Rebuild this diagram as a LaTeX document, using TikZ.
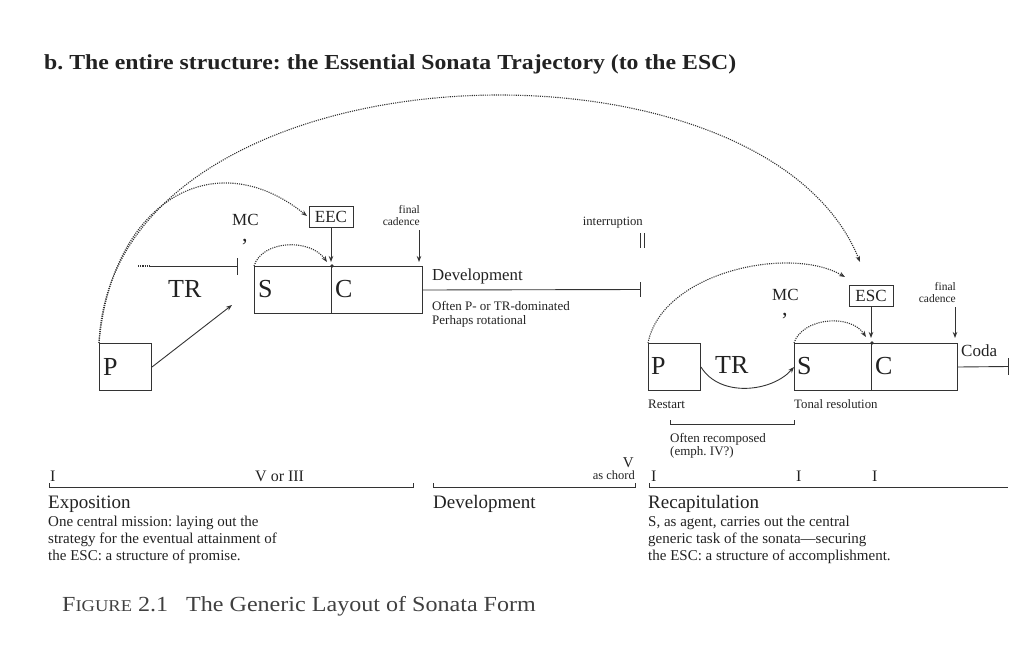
\documentclass[tikz,border=0pt]{standalone}
\usepackage{fontspec}
\setmainfont{Liberation Serif}
\newfontfamily\titlefont[FakeStretch=1.11]{Liberation Serif}
\newfontfamily\capfont[FakeStretch=1.12]{Liberation Serif}
\usetikzlibrary{arrows.meta,calc}
\definecolor{textc}{HTML}{222222}
\definecolor{linec}{HTML}{333333}
\newcommand{\fs}[1]{\fontsize{#1}{#1}\selectfont}
\frenchspacing
\tikzset{
  ln/.style={line width=0.9pt, draw=linec},
  dots/.style={line width=1.1pt, draw=linec, dash pattern=on 1.1pt off 1.1pt},
  tip/.style={-{Stealth[length=6pt,width=4.5pt]}},
  bx/.style={draw=linec, line width=1pt, inner sep=0pt, anchor=north west, minimum height=47pt},
  lbl/.style={inner sep=0pt, anchor=base west, text=textc},
  rlbl/.style={inner sep=0pt, anchor=base east, text=textc},
  tagbox/.style={draw=linec, line width=0.8pt, inner sep=0pt, minimum width=44pt, minimum height=21pt, text=textc, font=\fs{17}},
}
\begin{document}
\begin{tikzpicture}[x=1pt,y=-1pt]
\useasboundingbox (0,0) rectangle (1032,645);
\node[lbl, font=\titlefont\bfseries\fs{21.4}] (title) at (44,69) {b. The entire structure: the Essential Sonata Trajectory (to the ESC)};

% ---------- Exposition ----------
\node[bx, minimum width=52pt] (P1) at (99,343) {};
\node[lbl, font=\fs{26}] (P1t) at (103,375) {P};
\node[bx, minimum width=77pt] (S1) at (254,266) {};
\node[bx, minimum width=91pt] (C1) at (331,266) {};
\node[lbl, font=\fs{26}] (S1t) at (258,297) {S};
\node[lbl, font=\fs{26}] (C1t) at (335,297) {C};
\node[lbl, font=\fs{26}] (TR1) at (168,297) {TR};
\node[lbl, font=\fs{17}] (MC1) at (232,225) {MC};
\node[lbl, font=\fs{22}] (MC1c) at (242,241) {,};
\node[tagbox] (EEC) at (331,217) {EEC};
\node[rlbl, font=\fs{11.5}] (fc1a) at (420,213) {final};
\node[rlbl, font=\fs{11.5}] (fc1b) at (420,225) {cadence};

\coordinate (trA) at (138,266);
\coordinate (trB) at (150,266);
\coordinate (trC) at (237,266);
\draw[dots] (trA) -- (trB);
\draw[ln] (trB) -- (trC);
\draw[ln] (237,258) -- (237,275);
\coordinate (p1arr) at (232,305);
\draw[ln, tip] (P1.east) -- (p1arr);

\coordinate (eecTip) at (331,262);
\draw[ln, tip] (EEC.south) -- (eecTip);
\fill[linec] (S1.north east) circle (1.8pt);
\coordinate (fc1s) at (419,230);
\coordinate (fc1e) at (419,262);
\draw[ln, tip] (fc1s) -- (fc1e);
\coordinate (s1Tip) at (327,262);
\draw[dots, tip] (S1.north west) .. controls (262,240) and (310,238) .. (s1Tip);
\coordinate (eecL) at (307,216);
\draw[dots, tip] (P1.north west) .. controls (112,200) and (215,142) .. (eecL);
\coordinate (escTop) at (860,262);
\draw[dots, tip] (P1.north west) .. controls (112,40) and (762,18) .. (escTop);

% ---------- Development ----------
\coordinate (devEnd) at (640,289.5);
\draw[ln] (C1.east) -- (devEnd);
\draw[ln] (640,282) -- (640,297);
\node[lbl, font=\fs{16.8}] (dev) at (432,280) {Development};
\node[lbl, font=\fs{13}] (dev1) at (432,310) {Often P- or TR-dominated};
\node[lbl, font=\fs{13}] (dev2) at (432,324) {Perhaps rotational};
\node[rlbl, font=\fs{12.7}] (intr) at (643,225) {interruption};
\draw[ln] (640,233) -- (640,248);
\draw[ln] (644,233) -- (644,248);

% ---------- Recapitulation ----------
\node[bx, minimum width=52pt] (P2) at (648,343) {};
\node[lbl, font=\fs{26}] (P2t) at (651,374) {P};
\node[bx, minimum width=77pt] (S2) at (794,343) {};
\node[bx, minimum width=86pt] (C2) at (871,343) {};
\node[lbl, font=\fs{26}] (S2t) at (797,374) {S};
\node[lbl, font=\fs{26}] (C2t) at (875,374) {C};
\node[lbl, font=\fs{26}] (TR2) at (715,373) {TR};
\node[lbl, font=\fs{17}] (MC2) at (772,300) {MC};
\node[lbl, font=\fs{22}] (MC2c) at (782,315) {,};
\node[tagbox] (ESC) at (871,296) {ESC};
\node[rlbl, font=\fs{11.5}] (fc2a) at (956,290) {final};
\node[rlbl, font=\fs{11.5}] (fc2b) at (956,302) {cadence};
\node[lbl, font=\fs{17}] (coda) at (961,356) {Coda};

\draw[ln, tip] (P2.east) .. controls (720,398) and (772,392) .. (S2.west);
\coordinate (escTip) at (871,338);
\draw[ln, tip] (ESC.south) -- (escTip);
\fill[linec] (S2.north east) circle (1.8pt);
\coordinate (fc2s) at (955,307);
\coordinate (fc2e) at (955,338);
\draw[ln, tip] (fc2s) -- (fc2e);
\coordinate (s2Tip) at (866,337);
\draw[dots, tip] (S2.north west) .. controls (802,318) and (850,313) .. (s2Tip);
\coordinate (escL) at (845,277);
\draw[dots, tip] (P2.north west) .. controls (662,272) and (790,245) .. (escL);
\coordinate (codaEnd) at (1008,366.5);
\draw[ln] (C2.east) -- (codaEnd);
\draw[ln] (1008,358) -- (1008,375);

\node[lbl, font=\fs{13}] (restart) at (648,408) {Restart};
\node[lbl, font=\fs{12.8}] (tonal) at (794,408) {Tonal resolution};
\draw[ln] (670,420) -- (670,424) -- (794,424) -- (794,420);
\node[lbl, font=\fs{13}] (rec1) at (670,442) {Often recomposed};
\node[lbl, font=\fs{13}] (rec2) at (670,455) {(emph. IV?)};

% ---------- bottom timeline ----------
\draw[ln] (49,483) -- (49,487) -- (413,487) -- (413,483);
\draw[ln] (433,483) -- (433,487) -- (635,487) -- (635,483);
\draw[ln] (649,483) -- (649,487) -- (1008,487);
\node[lbl, font=\fs{16}] (k1) at (50,481) {I};
\node[lbl, font=\fs{16}] (k2) at (255,481) {V or III};
\node[rlbl, font=\fs{15}] (k3) at (634,467) {V};
\node[rlbl, font=\fs{12.5}] (k4) at (635,479) {as chord};
\node[lbl, font=\fs{16}] (k5) at (651,481) {I};
\node[lbl, font=\fs{16}] (k6) at (796,481) {I};
\node[lbl, font=\fs{16}] (k7) at (872,481) {I};

\node[lbl, font=\fs{19}] (expo) at (48,508) {Exposition};
\node[lbl, font=\fs{15}] (e1) at (48,526) {One central mission: laying out the};
\node[lbl, font=\fs{15}] (e2) at (48,543) {strategy for the eventual attainment of};
\node[lbl, font=\fs{15}] (e3) at (48,560) {the ESC: a structure of promise.};
\node[lbl, font=\fs{19}] (devb) at (433,508) {Development};
\node[lbl, font=\fs{19}] (reca) at (648,508) {Recapitulation};
\node[lbl, font=\fs{15}] (r1) at (648,526) {S, as agent, carries out the central};
\node[lbl, font=\fs{15}] (r2) at (648,543) {generic task of the sonata—securing};
\node[lbl, font=\fs{15}] (r3) at (648,560) {the ESC: a structure of accomplishment.};

\node[lbl, font=\capfont\fs{21.5}, text=black!75] (cap) at (62,611) {F{\fs{16.5}IGURE} 2.1\hspace{18pt}The Generic Layout of Sonata Form};
\end{tikzpicture}
\end{document}
